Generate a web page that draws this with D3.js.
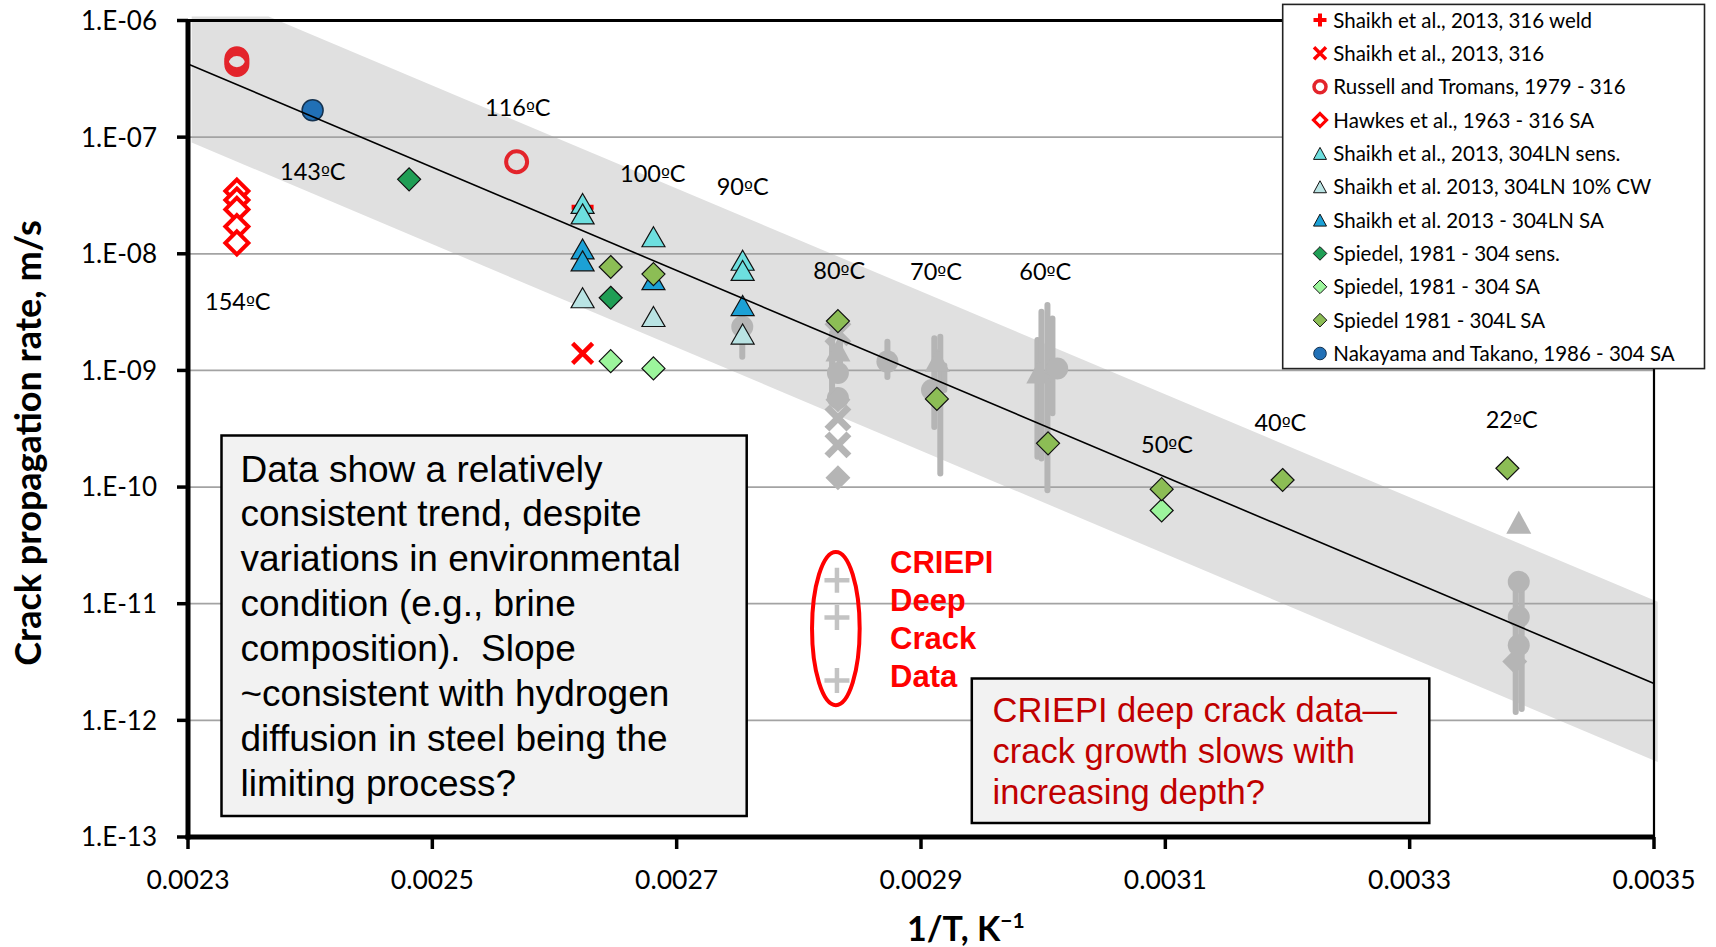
<!DOCTYPE html>
<html><head><meta charset="utf-8">
<script src="https://cdn.jsdelivr.net/npm/d3@7"></script>
<style>body{margin:0;background:#fff;} svg{display:block;}</style>
</head><body>
<svg id="c" width="1716" height="947"></svg>
<script>
// ---------------- DATA ----------------
const xTicks = [0.0023, 0.0025, 0.0027, 0.0029, 0.0031, 0.0033, 0.0035];
const xTickLabels = ["0.0023", "0.0025", "0.0027", "0.0029", "0.0031", "0.0033", "0.0035"];
const yTicks = [1e-6, 1e-7, 1e-8, 1e-9, 1e-10, 1e-11, 1e-12, 1e-13];
const yTickLabels = ["1.E-06", "1.E-07", "1.E-08", "1.E-09", "1.E-10", "1.E-11", "1.E-12", "1.E-13"];

const seriesNames = [
  "Shaikh et al., 2013, 316 weld",
  "Shaikh et al., 2013, 316",
  "Russell and Tromans, 1979 - 316",
  "Hawkes et al., 1963 - 316 SA",
  "Shaikh et al., 2013, 304LN sens.",
  "Shaikh et al. 2013, 304LN 10% CW",
  "Shaikh et al. 2013 - 304LN SA",
  "Spiedel, 1981 - 304 sens.",
  "Spiedel, 1981 - 304 SA",
  "Spiedel 1981 - 304L SA",
  "Nakayama and Takano, 1986 - 304 SA"
];
const shaikh316WeldX = [0.002623];
const shaikh316WeldY = [2.5e-8];
const shaikh316X = [0.002623];
const shaikh316Y = [1.4e-9];
const russellX = [0.00234, 0.00234, 0.00234, 0.002569];
const russellY = [4.7e-7, 4.45e-7, 4.2e-7, 6.15e-8];
const hawkesX = [0.00234, 0.00234, 0.00234, 0.00234, 0.00234];
const hawkesY = [3.45e-8, 2.89e-8, 2.4e-8, 1.71e-8, 1.24e-8];
const sensLNX = [0.002623, 0.002623, 0.002681, 0.002754, 0.002754];
const sensLNY = [2.7e-8, 2.2e-8, 1.4e-8, 8.8e-9, 7.2e-9];
const cwLNX = [0.002623, 0.002681, 0.002754];
const cwLNY = [4.2e-9, 2.9e-9, 2.05e-9];
const saLNX = [0.002623, 0.002623, 0.002681, 0.002754];
const saLNY = [1.1e-8, 8.7e-9, 6.0e-9, 3.6e-9];
const sp304SensX = [0.002481, 0.002646];
const sp304SensY = [4.35e-8, 4.2e-9];
const sp304SAX = [0.002646, 0.002681, 0.003097];
const sp304SAY = [1.2e-9, 1.04e-9, 6.3e-11];
const sp304LX = [0.002646, 0.002681, 0.002832, 0.002913, 0.003004, 0.003097, 0.003196, 0.00338];
const sp304LY = [7.7e-9, 6.7e-9, 2.65e-9, 5.7e-10, 2.37e-10, 9.6e-11, 1.15e-10, 1.45e-10];
const nakayamaX = [0.002402];
const nakayamaY = [1.7e-7];

// grey (CRIEPI) data
const greyX = [0.002832, 0.002832, 0.002832, 0.002832, 0.002832, 0.002832, 0.002832, 0.002832,
               0.0028725, 0.0029134, 0.002909, 0.0029964, 0.0030115, 0.0027537,
               0.0033893, 0.0033893, 0.0033893, 0.0033893, 0.003386];
const greyY = [2.1e-9, 1.5e-9, 9.5e-10, 5.8e-10, 5.6e-10, 3.9e-10, 2.3e-10, 1.2e-10,
               1.19e-9, 1.22e-9, 6.8e-10, 9.7e-10, 1.04e-9, 2.37e-9,
               5.0e-11, 1.54e-11, 7.7e-12, 4.4e-12, 3.2e-12];
const greyShape = ["x", "tri", "circle", "circle", "diamond", "x", "x", "diamond",
                   "circle", "tri", "circle", "tri", "circle", "circle",
                   "tri", "circle", "circle", "circle", "diamond"];
const greyBarX = [0.0028272, 0.0028337, 0.0028725, 0.0029109, 0.0029158, 0.0029191,
                  0.0029953, 0.0029986, 0.0030035, 0.0030076, 0.0027537, 0.0033868, 0.0033917];
const greyBarHi = [2.09e-9, 2.37e-9, 1.76e-9, 1.89e-9, 1.94e-9, 1.1e-9,
                   1.82e-9, 3.18e-9, 3.63e-9, 2.79e-9, 2.37e-9, 1.5e-11, 1.5e-11];
const greyBarLo = [5.94e-10, 1.07e-9, 8.8e-10, 3.28e-10, 1.31e-10, 6.8e-10,
                   1.82e-10, 1.76e-10, 9.4e-11, 4.3e-10, 1.31e-9, 1.18e-12, 1.25e-12];
// CRIEPI deep crack data
const deepX = [0.0028312, 0.0028312, 0.0028312];
const deepY = [1.59e-11, 7.6e-12, 2.2e-12];

// trend line and scatter band
const trendX = [0.0023, 0.0035];
const trendY = [4.24e-7, 2.07e-12];
const bandX = [0.002303, 0.002366, 0.003503, 0.003503, 0.002303];
const bandY = [1.08e-6, 1.08e-6, 1.04e-11, 4.4e-13, 9.0e-8];
// ellipse around deep-crack data (data-space bounds: xmin, xmax, ymax, ymin)
const ellipseBounds = [0.0028108, 0.0028498, 2.78e-11, 1.35e-12];

const tempValues = ["154", "143", "116", "100", "90", "80", "70", "60", "50", "40", "22"];
const noteLines = ["Data show a relatively", "consistent trend, despite", "variations in environmental",
  "condition (e.g., brine", "composition).  Slope", "~consistent with hydrogen",
  "diffusion in steel being the", "limiting process?"];
const deepLines = ["CRIEPI deep crack data—", "crack growth slows with", "increasing depth?"];
const criepiLines = ["CRIEPI", "Deep", "Crack", "Data"];
const yTitle = "Crack propagation rate, m/s";

// ---------------- LAYOUT / STYLE ----------------
const L = 188, R = 1654, T = 20.5, B = 837;
const tempLabelPos = [[205, 310], [280, 180], [485, 115.5], [620, 181.7], [716.7, 195], [813.3, 279],
  [910, 280], [1019.3, 280], [1141, 452.7], [1254.4, 430.7], [1485.7, 428.3]];

const svg = d3.select("#c");
const x = d3.scaleLinear().domain([0.0023, 0.0035]).range([L, R]);
const y = d3.scaleLog().domain([1e-13, 1e-6]).range([B, T]);

function shapePath(type, s) {
  if (type === "circle") { const p = d3.path(); p.arc(0, 0, s.r, 0, 2 * Math.PI); p.closePath(); return p.toString(); }
  if (type === "tri") return `M0,${-s.h / 2}L${s.w / 2},${s.h / 2}L${-s.w / 2},${s.h / 2}Z`;
  if (type === "diamond") return `M0,${-s.r}L${s.r},0L0,${s.r}L${-s.r},0Z`;
  if (type === "x") return `M${-s.a},${-s.a}L${s.a},${s.a}M${-s.a},${s.a}L${s.a},${-s.a}`;
  if (type === "plus") return `M${-s.a},0L${s.a},0M0,${-s.a}L0,${s.a}`;
}

// band
const bandPts = bandX.map((v, i) => [x(v), y(bandY[i])]);
svg.append("path").attr("d", d3.line()(bandPts) + "Z").attr("fill", "#e0e0e0");

// gridlines
svg.append("g").selectAll("line").data(yTicks.slice(1, -1)).join("line")
  .attr("x1", L).attr("x2", R).attr("y1", d => y(d)).attr("y2", d => y(d))
  .attr("stroke", "#a3a3a3").attr("stroke-width", 1.8);

// grey error bars
const grey = "#b5b5b5";
svg.append("g").selectAll("line").data(greyBarX).join("line")
  .attr("x1", d => x(d)).attr("x2", d => x(d))
  .attr("y1", (d, i) => y(greyBarHi[i])).attr("y2", (d, i) => y(greyBarLo[i]))
  .attr("stroke", grey).attr("stroke-width", 6).attr("stroke-linecap", "round");

// grey markers
const greyStyle = {
  circle: { s: { r: 11 }, fill: grey, stroke: "none", sw: 0 },
  tri: { s: { w: 25, h: 23 }, fill: grey, stroke: "none", sw: 0 },
  diamond: { s: { r: 12.5 }, fill: grey, stroke: "none", sw: 0 },
  x: { s: { a: 11 }, fill: "none", stroke: grey, sw: 7 }
};
svg.append("g").selectAll("path").data(greyX).join("path")
  .attr("transform", (d, i) => `translate(${x(d)},${y(greyY[i])})`)
  .attr("d", (d, i) => shapePath(greyShape[i], greyStyle[greyShape[i]].s))
  .attr("fill", (d, i) => greyStyle[greyShape[i]].fill)
  .attr("stroke", (d, i) => greyStyle[greyShape[i]].stroke)
  .attr("stroke-width", (d, i) => greyStyle[greyShape[i]].sw);

// deep crack plus markers
svg.append("g").selectAll("path").data(deepX).join("path")
  .attr("transform", (d, i) => `translate(${x(d)},${y(deepY[i])})`)
  .attr("d", shapePath("plus", { a: 12.5 }))
  .attr("fill", "none").attr("stroke", "#c3c3c3").attr("stroke-width", 4.5);

// coloured series
const series = [
  { xs: shaikh316WeldX, ys: shaikh316WeldY, shape: "plus", s: { a: 11 }, ls: { a: 6.5 }, fill: "none", stroke: "#ff0000", sw: 5, lsw: 4 },
  { xs: shaikh316X, ys: shaikh316Y, shape: "x", s: { a: 10 }, ls: { a: 6 }, fill: "none", stroke: "#ff0000", sw: 4.5, lsw: 3.5 },
  { xs: russellX, ys: russellY, shape: "circle", s: { r: 10.5 }, ls: { r: 6 }, fill: "none", stroke: "#e3242b", sw: 4, lsw: 3.5 },
  { xs: hawkesX, ys: hawkesY, shape: "diamond", s: { r: 11.5 }, ls: { r: 6.5 }, fill: "#ffffff", stroke: "#ff0000", sw: 4, lsw: 3.2 },
  { xs: sensLNX, ys: sensLNY, shape: "tri", s: { w: 23, h: 20 }, ls: { w: 13, h: 12 }, fill: "#6ddfdf", stroke: "#111", sw: 1.2, lsw: 1 },
  { xs: cwLNX, ys: cwLNY, shape: "tri", s: { w: 23, h: 20 }, ls: { w: 13, h: 12 }, fill: "#b9e3e3", stroke: "#111", sw: 1.2, lsw: 1 },
  { xs: saLNX, ys: saLNY, shape: "tri", s: { w: 23, h: 20 }, ls: { w: 13, h: 12 }, fill: "#1ca1d6", stroke: "#111", sw: 1.2, lsw: 1 },
  { xs: sp304SensX, ys: sp304SensY, shape: "diamond", s: { r: 11.5 }, ls: { r: 6.8 }, fill: "#1f9e55", stroke: "#111", sw: 1.2, lsw: 1 },
  { xs: sp304SAX, ys: sp304SAY, shape: "diamond", s: { r: 11.5 }, ls: { r: 6.8 }, fill: "#9cf59c", stroke: "#111", sw: 1.2, lsw: 1 },
  { xs: sp304LX, ys: sp304LY, shape: "diamond", s: { r: 11.5 }, ls: { r: 6.8 }, fill: "#8cbd55", stroke: "#111", sw: 1.2, lsw: 1 },
  { xs: nakayamaX, ys: nakayamaY, shape: "circle", s: { r: 10.5 }, ls: { r: 6.3 }, fill: "#2170b6", stroke: "#15324f", sw: 1.5, lsw: 1 }
];
series.forEach(sr => {
  svg.append("g").selectAll("path").data(sr.xs).join("path")
    .attr("transform", (d, i) => `translate(${x(d)},${y(sr.ys[i])})`)
    .attr("d", shapePath(sr.shape, sr.s))
    .attr("fill", sr.fill).attr("stroke", sr.stroke).attr("stroke-width", sr.sw);
});

// trend line
svg.append("path")
  .attr("d", d3.line().x(d => x(d[0])).y(d => y(d[1]))(trendX.map((v, i) => [v, trendY[i]])))
  .attr("stroke", "#000").attr("stroke-width", 1.6).attr("fill", "none");

// axes frame
svg.append("line").attr("x1", L).attr("x2", R).attr("y1", T).attr("y2", T).attr("stroke", "#000").attr("stroke-width", 3);
svg.append("line").attr("x1", R).attr("x2", R).attr("y1", T).attr("y2", B).attr("stroke", "#000").attr("stroke-width", 2.2);
svg.append("line").attr("x1", L).attr("x2", L).attr("y1", T - 1.5).attr("y2", B + 2.5).attr("stroke", "#000").attr("stroke-width", 5);
svg.append("line").attr("x1", L - 2.5).attr("x2", R + 1).attr("y1", B).attr("y2", B).attr("stroke", "#000").attr("stroke-width", 5);

// y ticks
const yAx = svg.append("g");
yAx.selectAll("line").data(yTicks).join("line")
  .attr("x1", L - 11).attr("x2", L).attr("y1", d => y(d)).attr("y2", d => y(d))
  .attr("stroke", "#000").attr("stroke-width", 3.5);
yAx.selectAll("text").data(yTicks).join("text")
  .attr("x", 157).attr("y", d => y(d)).attr("dy", "0.36em").attr("text-anchor", "end")
  .attr("font-family", "Lato, 'Open Sans', sans-serif").attr("font-size", 26).attr("fill", "#000")
  .text((d, i) => yTickLabels[i]);
// x ticks
const xAx = svg.append("g");
xAx.selectAll("line").data(xTicks).join("line")
  .attr("x1", d => x(d)).attr("x2", d => x(d)).attr("y1", B).attr("y2", B + 12)
  .attr("stroke", "#000").attr("stroke-width", 3.5);
xAx.selectAll("text").data(xTicks).join("text")
  .attr("x", d => x(d)).attr("y", 888.5).attr("text-anchor", "middle")
  .attr("font-family", "Lato, 'Open Sans', sans-serif").attr("font-size", 26.5).attr("fill", "#000")
  .text((d, i) => xTickLabels[i]);

// axis titles
svg.append("text").attr("transform", "translate(41,443) rotate(-90)").attr("text-anchor", "middle")
  .attr("font-family", "Lato, sans-serif").attr("font-weight", "bold").attr("font-size", 36).attr("fill", "#000")
  .text(yTitle);
const xt = svg.append("text").attr("x", 907).attr("y", 941)
  .attr("font-family", "Lato, sans-serif").attr("font-weight", "bold").attr("font-size", 34).attr("fill", "#000");
xt.append("tspan").text("1/T, K");
xt.append("tspan").attr("font-size", 21).attr("dy", -13).text("−1");

// temperature labels (º with an underlined ordinal glyph)
const tl = svg.append("g").selectAll("text").data(tempValues).join("text")
  .attr("x", (d, i) => tempLabelPos[i][0]).attr("y", (d, i) => tempLabelPos[i][1])
  .attr("font-family", "Lato, sans-serif").attr("font-size", 23.5).attr("fill", "#000");
tl.append("tspan").text(d => d);
tl.append("tspan").attr("font-family", "'DejaVu Sans', sans-serif").attr("font-size", 19).text("º");
tl.append("tspan").text("C");

// ellipse + CRIEPI label
const ex0 = x(ellipseBounds[0]), ex1 = x(ellipseBounds[1]), ey0 = y(ellipseBounds[2]), ey1 = y(ellipseBounds[3]);
svg.append("ellipse").attr("cx", (ex0 + ex1) / 2).attr("cy", (ey0 + ey1) / 2)
  .attr("rx", (ex1 - ex0) / 2).attr("ry", (ey1 - ey0) / 2)
  .attr("fill", "none").attr("stroke", "#ff0000").attr("stroke-width", 4);
svg.append("g").selectAll("text").data(criepiLines).join("text")
  .attr("x", 890).attr("y", (d, i) => 573 + i * 37.9)
  .attr("font-family", "'Liberation Sans', Arial, sans-serif").attr("font-weight", "bold")
  .attr("font-size", 31).attr("fill", "#ff0000").text(d => d);

// note box (left)
svg.append("rect").attr("x", 221.5).attr("y", 435.5).attr("width", 525.2).attr("height", 380.5)
  .attr("fill", "#f2f2f2").attr("stroke", "#000").attr("stroke-width", 2.5);
svg.append("g").selectAll("text").data(noteLines).join("text")
  .attr("x", 240.5).attr("y", (d, i) => 481.5 + i * 44.9)
  .attr("font-family", "'Liberation Sans', Arial, sans-serif").attr("font-size", 37).attr("fill", "#000")
  .style("white-space", "pre").text(d => d);

// deep crack box
svg.append("rect").attr("x", 971.8).attr("y", 678.5).attr("width", 457.5).attr("height", 144.5)
  .attr("fill", "#f2f2f2").attr("stroke", "#000").attr("stroke-width", 2.5);
svg.append("g").selectAll("text").data(deepLines).join("text")
  .attr("x", 992.5).attr("y", (d, i) => 721.7 + i * 41)
  .attr("font-family", "'Liberation Sans', Arial, sans-serif").attr("font-size", 34.5).attr("fill", "#c00000")
  .text(d => d);

// legend
const lg = svg.append("g");
lg.append("rect").attr("x", 1282.7).attr("y", 4.4).attr("width", 421.8).attr("height", 364.2)
  .attr("fill", "#fff").attr("stroke", "#222").attr("stroke-width", 1.6);
series.forEach((sr, i) => {
  const cy = 20 + i * 33.35;
  lg.append("path").attr("transform", `translate(1320,${cy})`).attr("d", shapePath(sr.shape, sr.ls))
    .attr("fill", sr.fill).attr("stroke", sr.stroke).attr("stroke-width", sr.lsw);
  lg.append("text").attr("x", 1333.3).attr("y", cy + 7.6)
    .attr("font-family", "Lato, sans-serif").attr("font-size", 20.5).attr("fill", "#000")
    .text(seriesNames[i]);
});
</script>
</body></html>
